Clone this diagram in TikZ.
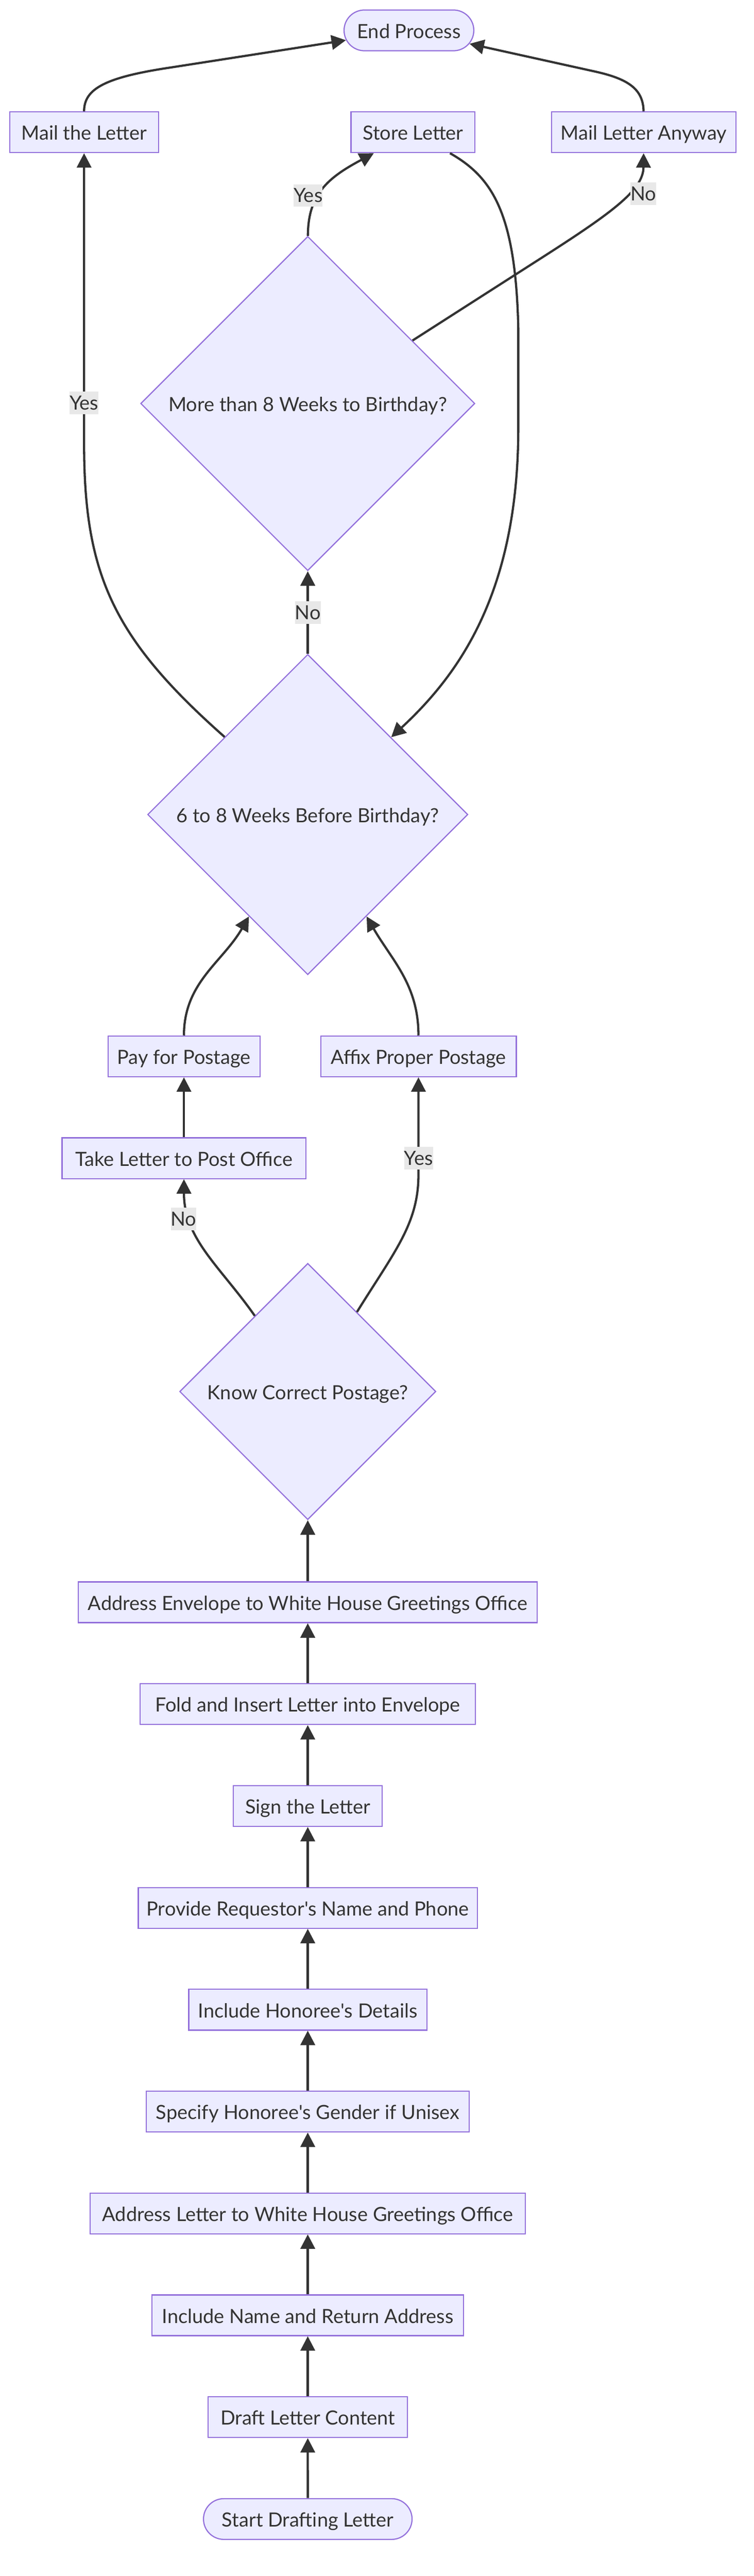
\documentclass[tikz,border=0pt]{standalone}
\usepackage{fontspec}
\setmainfont{Lato}
\usepackage{tikz}
\usetikzlibrary{arrows.meta, positioning, shapes.geometric, shapes.misc}

\definecolor{boxfill}{HTML}{ECECFF}
\definecolor{boxline}{HTML}{9370DB}
\definecolor{ink}{HTML}{333333}
\definecolor{lblfill}{HTML}{E8E8E8}

\begin{document}
\begin{tikzpicture}[
            x = 1pt, y = -1pt, % page coordinates, y grows downward
            > = {Triangle[length = 8.8pt, width = 8.8pt]}, % arrow head style
            node distance = 62pt, % distance between steps
            color = ink, % lines and text
            line width = 1.35pt, % line style
            font = \fontsize{11.9}{14}\selectfont
        ]

        \tikzstyle{task}=[
            draw = boxline,
            line width = 0.7pt,
            fill = boxfill,
            minimum height = 24.8pt,
            inner xsep = 0pt,
            inner ysep = 0pt,
            text height = 9.5pt,
            text depth = 0pt
        ]
        \tikzstyle{terminal}=[task, rounded rectangle]
        \tikzstyle{decision}=[task, diamond, aspect = 1]
        \tikzstyle{answer}=[
            fill = lblfill,
            inner sep = 0pt,
            text height = 11pt,
            text depth = 2.7pt
        ]

        \useasboundingbox (0,0) rectangle (459.05,1568);

        % steps, bottom to top
        \node[terminal, minimum width = 127pt] (start) at (187.4,1533.3) {Start Drafting Letter};
        \node[task, minimum width = 121.2pt] (draft) [above of=start] {Draft Letter Content};
        \node[task, minimum width = 189.7pt] (incname) [above of=draft] {Include Name and Return Address};
        \node[task, minimum width = 265pt] (addrlet) [above of=incname] {Address Letter to White House Greetings Office};
        \node[task, minimum width = 196.7pt] (gender) [above of=addrlet] {Specify Honoree\textquotesingle s Gender if Unisex};
        \node[task, minimum width = 145pt] (honoree) [above of=gender] {Include Honoree\textquotesingle s Details};
        \node[task, minimum width = 206.4pt] (provide) [above of=honoree] {Provide Requestor\textquotesingle s Name and Phone};
        \node[task, minimum width = 90.7pt] (sign) [above of=provide] {Sign the Letter};
        \node[task, minimum width = 204pt] (fold) [above of=sign] {Fold and Insert Letter into Envelope};
        \node[task, minimum width = 279.6pt] (addrenv) [above of=fold] {Address Envelope to White House Greetings Office};

        % postage
        \node[decision, minimum size = 156pt] (kp) at (187.4,847) {Know Correct Postage?};
        \node[task, minimum width = 148.4pt] (take) at (112,705) {Take Letter to Post Office};
        \node[task, minimum width = 92.5pt] (pay) [above of=take] {Pay for Postage};
        \node[task, minimum width = 119.1pt] (affix) at (254.8,643) {Affix Proper Postage};

        % timing
        \node[decision, minimum size = 195pt] (w68) at (187.4,495.8) {6 to 8 Weeks Before Birthday?};
        \node[decision, minimum size = 203.5pt] (m8) at (187.4,245.6) {More than 8 Weeks to Birthday?};
        \node[task, minimum width = 90.7pt] (mail) at (51.2,80.5) {Mail the Letter};
        \node[task, minimum width = 75.5pt] (store) at (251.5,80.5) {Store Letter};
        \node[task, minimum width = 112.4pt] (anyway) at (392,80.5) {Mail Letter Anyway};
        \node[terminal, minimum width = 79pt] (done) at (249,18.5) {End Process};

        \path[->] (start) edge (draft);
        \path[->] (draft) edge (incname);
        \path[->] (incname) edge (addrlet);
        \path[->] (addrlet) edge (gender);
        \path[->] (gender) edge (honoree);
        \path[->] (honoree) edge (provide);
        \path[->] (provide) edge (sign);
        \path[->] (sign) edge (fold);
        \path[->] (fold) edge (addrenv);
        \path[->] (addrenv) edge (kp);

        \path[->] (kp) edge[out=125, in=-90] node[answer, pos=0.75, xshift=-4pt] {No} (take);
        \draw[->] (kp) .. controls (240,762) and (254.8,745) .. (254.8,715)
                  -- node[answer, pos=0.17] {Yes} (affix);
        \path[->] (take) edge (pay);
        \path[->] (pay) edge[out=90, in=240] (w68);
        \path[->] (affix) edge[out=90, in=300] (w68);

        \path[->] (w68) edge node[answer] {No} (m8);
        \draw[->] (w68.137) .. controls (69.2,388.8) and (51.2,350) .. (51.2,270)
                  -- node[answer, pos=0.14] {Yes} (mail);
        \draw[->] (m8) .. controls (187.5,118) and (200,108) .. (store)
                  node[answer, pos=0.4, xshift=-6pt] {Yes};
        \draw[->] (m8.31) -- (325,160) .. controls (372,130) and (391.7,116) .. (anyway)
                  node[answer, pos=0.6, xshift=10pt] {No};
        \draw[->] (store) .. controls (300,108) and (314,130) .. (315.6,200) -- (315.6,260)
                  .. controls (315.6,360) and (280,410) .. (w68);

        \draw[->] (mail) .. controls (51.2,54) and (64,47) .. (104.5,41) -- (done);
        \draw[->] (anyway) .. controls (391.7,54) and (382,48) .. (363,43.7) -- (done);

  \end{tikzpicture}
\end{document}
